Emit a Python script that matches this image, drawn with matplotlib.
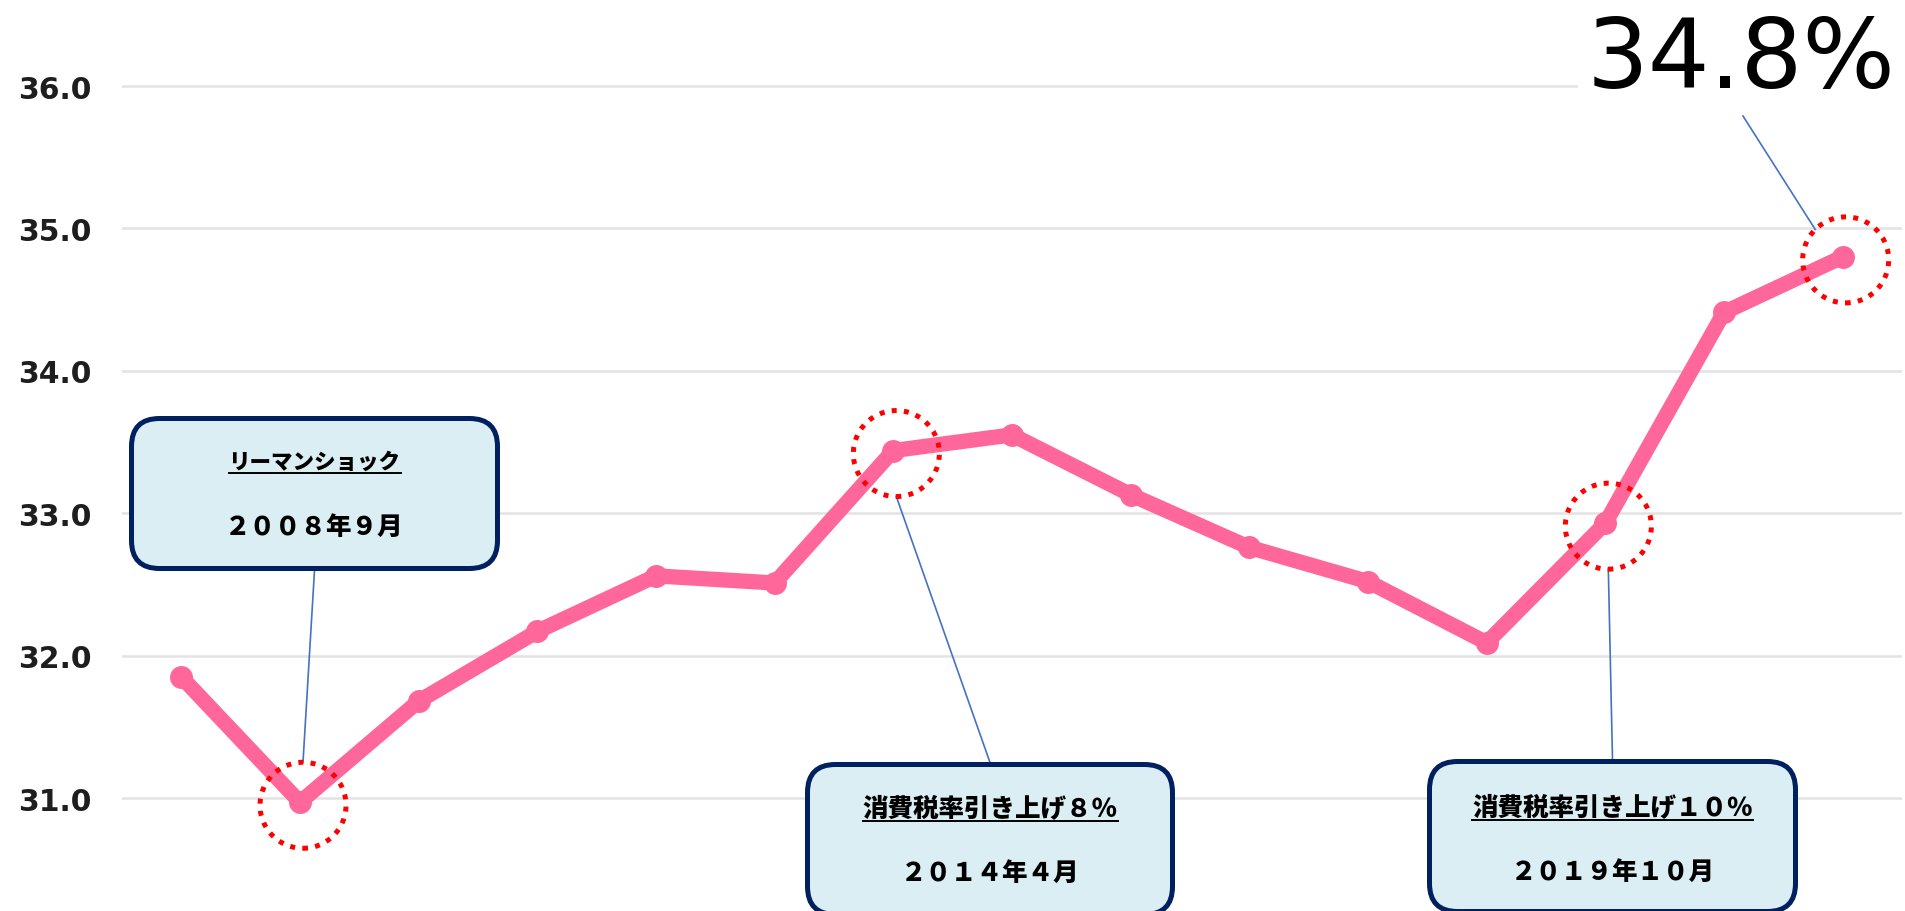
import numpy as np
import matplotlib
matplotlib.use("Agg")
import matplotlib.pyplot as plt
from matplotlib.patches import FancyBboxPatch, Circle
from matplotlib.lines import Line2D
from matplotlib.transforms import IdentityTransform

# ---------------- data ----------------
years = list(range(2007, 2022))
values = [31.85, 30.97, 31.68, 32.17, 32.56, 32.51, 33.44, 33.55,
          33.13, 32.76, 32.52, 32.09, 32.93, 34.41, 34.80]
yticks = [31.0, 32.0, 33.0, 34.0, 35.0, 36.0]
ytick_labels = ["31.0", "32.0", "33.0", "34.0", "35.0", "36.0"]

callout_titles = ["リーマンショック", "消費税率引き上げ８％", "消費税率引き上げ１０％"]
callout_dates = ["２００８年９月", "２０１４年４月", "２０１９年１０月"]
callout_idx = [1, 6, 12]
last_label = "34.8%"

W, H = 1905, 912
fig = plt.figure(figsize=(W / 100, H / 100), dpi=100)
ax = fig.add_axes([122 / W, 0, 1780 / W, 1])

x = np.arange(len(years))
ax.plot(x, values, color="#FF6699", lw=11, marker="o", ms=15.5,
        solid_capstyle="round", solid_joinstyle="round", zorder=3)

ax.set_xlim(-0.5, len(years) - 0.5)
ax.set_ylim(30.2065, 36.611)
ax.set_yticks(yticks)
ax.set_yticklabels(ytick_labels, fontsize=21.5, fontweight="bold",
                   color="#1e1e1e", family="DejaVu Sans")
ax.tick_params(axis="y", length=0, pad=22)
ax.set_xticks([])
for s in ax.spines.values():
    s.set_visible(False)
ax.yaxis.grid(True, color="#e3e3e3", lw=1.8)
ax.set_axisbelow(True)

jp = ["Noto Sans CJK JP", "DejaVu Sans"]
idt = IdentityTransform()


def P(px, py):
    """top-left pixel -> display coords"""
    return px, H - py


fig.canvas.draw()


def data_px(i):
    dx, dy = ax.transData.transform((x[i], values[i]))
    return dx, H - dy  # top-left origin


# dotted red circles
R = 43
circ_idx = callout_idx + [len(years) - 1]
centers = {}
for i in circ_idx:
    cx, cy = data_px(i)
    cx += 3
    cy += 3
    centers[i] = (cx, cy)
    c = Circle(P(cx, cy), R, transform=idt, fill=False, edgecolor="#FF0000",
               lw=3.6, linestyle=(0, (1, 1.45)), zorder=5)
    c.set_capstyle("butt")
    fig.add_artist(c)

# callout boxes: (x0, x1, ytop, ybottom) in top-left pixels
boxes = [(131.5, 497.5, 419.5, 569.5),
         (807.5, 1172.5, 765.5, 915.5),
         (1429.5, 1795.5, 762.5, 912.5)]
title_y = [462, 808, 807]
date_y = [527, 873, 872]
title_fs = [15.5, 18.4, 18.4]

line_col = "#4472C4"
for k, (x0, x1, yt, yb) in enumerate(boxes):
    bx, by = P(x0, yb)
    box = FancyBboxPatch((bx, by), x1 - x0, yb - yt,
                         boxstyle="round,pad=0,rounding_size=28",
                         transform=idt, facecolor="#DAEEF3",
                         edgecolor="#002060", lw=3.6, zorder=6)
    fig.add_artist(box)
    xc = (x0 + x1) / 2
    t = fig.text(*P(xc, title_y[k]), callout_titles[k], transform=idt,
                 ha="center", va="center", fontsize=title_fs[k],
                 fontweight="black", family=jp, color="#000000", zorder=7)
    fig.text(*P(xc, date_y[k]), callout_dates[k], transform=idt,
             ha="center", va="center", fontsize=18.4, fontweight="black",
             family=jp, color="#000000", zorder=7)
    fig.canvas.draw()
    bb = t.get_window_extent()
    uy = title_y[k] + 0.5 * title_fs[k] * 100 / 72 + 1
    fig.add_artist(Line2D([bb.x0, bb.x1], [H - uy, H - uy], transform=idt,
                          color="#000000", lw=1.4, zorder=7))
    # connector
    cx, cy = centers[callout_idx[k]]
    if yt > cy:
        end = (cx, cy + R)
        start = (xc, yt - 2)
    else:
        end = (cx, cy - R)
        start = (xc, yb + 2)
    fig.add_artist(Line2D([P(*start)[0], P(*end)[0]], [P(*start)[1], P(*end)[1]],
                          transform=idt, color=line_col, lw=1.2, zorder=4))

# last value label
li = len(years) - 1
cx, cy = centers[li]
ang = np.deg2rad(135)
end = (cx + R * np.cos(ang), cy - R * np.sin(ang))
fig.add_artist(Line2D([P(1743, 117)[0], P(*end)[0]], [P(1743, 117)[1], P(*end)[1]],
                      transform=idt, color=line_col, lw=1.2, zorder=4))
lbl = fig.text(*P(1741, 88), last_label, transform=idt, ha="center",
               va="baseline", fontsize=70, family="DejaVu Sans", color="#000000")
lbl.set_bbox(dict(facecolor="white", edgecolor="none", pad=6))

fig.savefig("out.png", dpi=100)
